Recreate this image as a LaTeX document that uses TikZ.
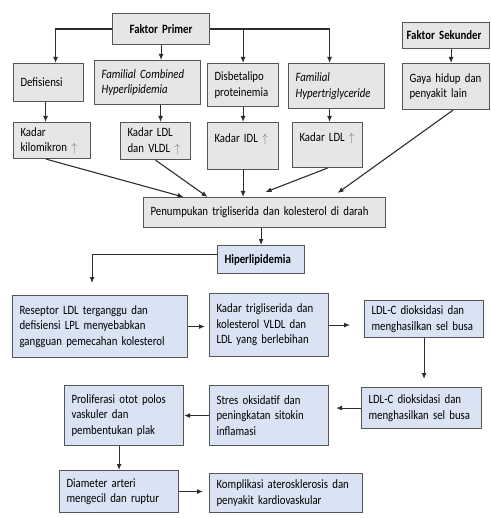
\documentclass[tikz,border=0pt]{standalone}
\usepackage{fontspec}
\setmainfont{Carlito}[FakeStretch=0.85]
\usetikzlibrary{arrows.meta,positioning}
\definecolor{boxgrey}{RGB}{231,230,230}
\definecolor{boxblue}{RGB}{218,227,243}
\definecolor{boxline}{RGB}{85,85,85}
\definecolor{arrline}{RGB}{45,45,45}
\definecolor{upgrey}{RGB}{105,120,145}
\newcommand{\kadarup}{{\color{upgrey}$\uparrow$}}
\newcommand{\boxfont}{\fontsize{12.7}{15.5}\selectfont\hyphenpenalty=10000\relax}
\tikzset{
  box/.style={draw=boxline, line width=1.1pt, anchor=north west, inner xsep=7pt, inner ysep=2pt,
    align=left, font=\boxfont},
  sz/.code 2 args={\pgfmathsetmacro\tw{#1-14}\pgfkeysalso{minimum width=#1pt, minimum height=#2pt, text width=\tw pt}},
  grey/.style={box, fill=boxgrey},
  blue/.style={box, fill=boxblue},
  link/.style={->, draw=arrline, line width=1.1pt},
}

\begin{document}
\begin{tikzpicture}[x=1pt, y=-1pt, >={Latex[length=6pt,width=5pt]}]
  \useasboundingbox[fill=white] (0,0) rectangle (490,518);
  % --- faktor ---
  \node[grey, sz={97}{31}, align=center] (fp) at (112,13) {\textbf{Faktor Primer}};
  \node[grey, sz={87}{26}, inner xsep=4pt, text width=79pt] (fs) at (402,22) {\textbf{Faktor Sekunder}};
  \node[grey, sz={70}{38}] (def) at (13,63) {Defisiensi};
  \node[grey, sz={106}{44}] (fch) at (94,60) {\textit{Familial Combined}\\\textit{Hyperlipidemia}};
  \node[grey, sz={71}{43}] (dis) at (207,63) {Disbetalipo\\proteinemia};
  \node[grey, sz={96}{45}] (fht) at (288,63) {\textit{Familial}\\\textit{Hypertriglyceride}};
  \node[grey, sz={87}{46}] (gaya) at (402,63) {Gaya hidup dan\\penyakit lain};
  % --- kadar ---
  \node[grey, sz={77}{36}] (kk) at (13,122) {Kadar\\kilomikron \kadarup};
  \node[grey, sz={70}{37}] (kldl) at (120,122) {Kadar LDL\\dan VLDL \kadarup};
  \node[grey, sz={71}{47}] (kidl) at (207,122) {Kadar IDL \kadarup\\\mbox{}};
  \node[grey, sz={70}{45}] (kldl2) at (292,122) {Kadar LDL \kadarup\\\mbox{}};
  \node[grey, sz={242}{30}] (pen) at (143,197) {Penumpukan trigliserida dan kolesterol di darah};
  % --- alur ---
  \node[blue, sz={87}{28}] (hip) at (217,245) {\textbf{Hiperlipidemia}};
  \node[blue, sz={175}{62}] (res) at (12,295) {Reseptor LDL terganggu dan\\defisiensi LPL menyebabkan\\gangguan pemecahan kolesterol};
  \node[blue, sz={119}{63}] (ktg) at (209,293) {Kadar trigliserida dan\\kolesterol VLDL dan\\LDL yang berlebihan};
  \node[blue, sz={119}{37}] (ldl1) at (364,300) {LDL-C dioksidasi dan\\menghasilkan sel busa};
  \node[blue, sz={120}{41}] (ldl2) at (361,387) {LDL-C dioksidasi dan\\menghasilkan sel busa};
  \node[blue, sz={119}{60}] (str) at (209,385) {Stres oksidatif dan\\peningkatan sitokin\\inflamasi};
  \node[blue, sz={119}{60}] (pro) at (64,385) {Proliferasi otot polos\\vaskuler dan\\pembentukan plak};
  \node[blue, sz={119}{42}] (dia) at (59,470) {Diameter arteri\\mengecil dan ruptur};
  \node[blue, sz={153}{39}] (kom) at (209,473) {Komplikasi aterosklerosis dan\\penyakit kardiovaskular};

  % top branches
  \draw[link] (fp.west) -| ([xshift=7pt]def.north);
  \draw[link] (fp.south) -- (fp.south |- fch.north);
  \draw[link] (fp.east) -| ([xshift=-7pt]fht.north);
  \draw[link] (fp.east -| dis.north) -- (dis.north);
  \draw[link] ([xshift=5pt]fs.south) -- ([xshift=5pt]fs.south |- gaya.north);
  \draw[link] ([xshift=-3pt]def.south) -- ([xshift=-3pt]def.south |- kk.north);
  \draw[link] ([xshift=13pt]fch.south) -- ([xshift=13pt]fch.south |- kldl.north);
  \draw[link] (dis.south) -- (dis.south |- kidl.north);
  \draw[link] ([xshift=-7pt]fht.south) -- ([xshift=-7pt]fht.south |- kldl2.north);
  % into penumpukan
  \draw[link] ([xshift=-6pt]kk.south) -- ([xshift=-81pt]pen.north);
  \draw[link] (kldl.south) -- ([xshift=-57pt]pen.north);
  \draw[link] (kidl.south) -- (kidl.south |- pen.north);
  \draw[link] (kldl2.south) -- ([xshift=1pt,yshift=5pt]pen.north);
  \draw[link] ([xshift=7pt]gaya.south) -- ([xshift=73pt,yshift=4pt]pen.north);
  % lower chain
  \draw[link] (hip.north |- pen.south) -- (hip.north);
  \draw[link] ([yshift=5pt]hip.west) -| ([xshift=-8pt,yshift=12pt]res.north);
  \draw[link, shorten >=4pt] (res.east) -- (res.east -| ktg.west);
  \draw[link, shorten >=14pt] (ktg.east) -- (ktg.east -| ldl1.west);
  \draw[link, shorten >=8pt] (ldl1.south) -- (ldl1.south |- ldl2.north);
  \draw[link, shorten >=7pt] (ldl2.west) -- (ldl2.west -| str.east);
  \draw[link] (str.west) -- (str.west -| pro.east);
  \draw[link] (dia.north |- pro.south) -- (dia.north);
  \draw[link, shorten >=6pt] (dia.east) -- (dia.east -| kom.west);
\end{tikzpicture}
\end{document}
